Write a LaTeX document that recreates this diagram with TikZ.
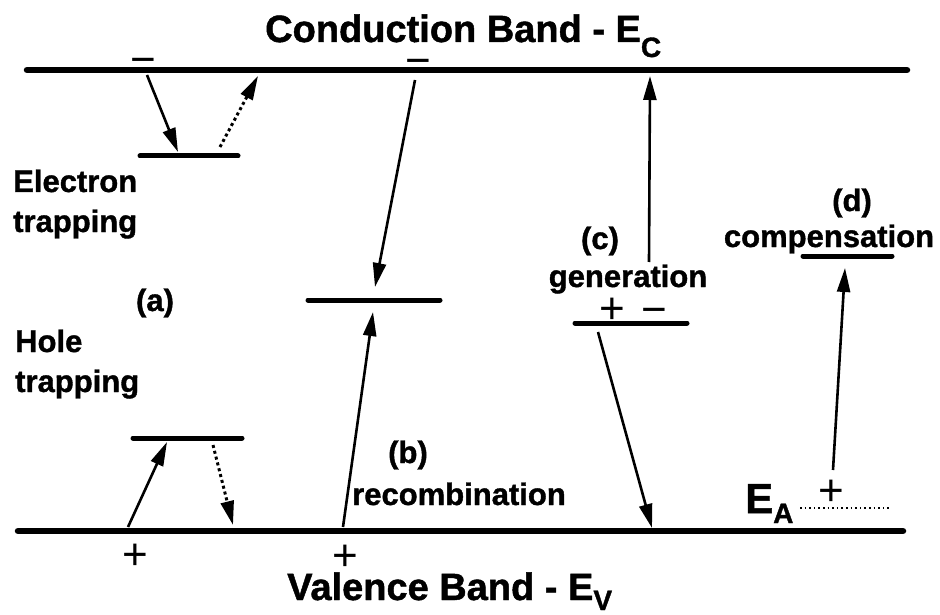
\documentclass[tikz,border=0pt]{standalone}
\usepackage{fontspec}
\setmainfont{Liberation Sans}[BoldFeatures={FakeBold=1.2}]
\usetikzlibrary{arrows.meta}
\newcommand{\lowsub}[2][15pt]{\raisebox{-#1}{\fontsize{28}{28}\selectfont #2}}

\begin{document}
\begin{tikzpicture}[x=1pt, y=-1pt,
  band/.style={line width=6.5pt, line cap=round},
  level/.style={line width=5pt, line cap=round},
  arrow/.style={-{Triangle[length=24pt,width=13pt]}, line width=2.6pt},
  dotarrow/.style={arrow, line width=3pt, dash pattern=on 3pt off 3pt},
  label/.style={font=\bfseries\fontsize{31}{40}\selectfont, inner sep=0pt, align=left},
  title/.style={font=\bfseries\fontsize{38}{40}\selectfont, inner sep=0pt, anchor=base west},
  sign/.style={font=\fontsize{44}{44}\selectfont, inner sep=0pt}
]
\useasboundingbox (0,0) rectangle (940,615);

\node[title] (cbtitle) at (265,42) {Conduction Band - E\lowsub{C}};
\node[title] (vbtitle) at (287,600) {Valence Band - E\lowsub[10pt]{V}};

\coordinate (cbL) at (27,70);  \coordinate (cbR) at (907,70);
\coordinate (vbL) at (18,531); \coordinate (vbR) at (903,531);
\draw[band] (cbL) -- (cbR);
\draw[band] (vbL) -- (vbR);

\coordinate (etL) at (140,156); \coordinate (etR) at (238,156);
\coordinate (htL) at (133,438); \coordinate (htR) at (242,438);
\coordinate (rcL) at (308,300); \coordinate (rcR) at (440,300);
\coordinate (gnL) at (575,323); \coordinate (gnR) at (687,323);
\coordinate (cpL) at (803,256); \coordinate (cpR) at (892,256);
\draw[level] (etL) -- (etR);
\draw[level] (htL) -- (htR);
\draw[level] (rcL) -- (rcR);
\draw[level] (gnL) -- (gnR);
\draw[level] (cpL) -- (cpR);

\node[label, anchor=base west] (electron) at (13,232) {Electron\\trapping};
\node[label, anchor=base west] (hole) at (15,392) {Hole\\trapping};
\node[label] (pa) at (155,303) {(a)};
\node[label] (pb) at (408,455) {(b)};
\node[label, anchor=base west] (recomb) at (352,505) {recombination};
\node[label] (pc) at (600,241) {(c)};
\node[label, anchor=base] (gener) at (628,287) {generation};
\node[label] (pd) at (852,203) {(d)};
\node[label, anchor=base] (compens) at (829,247) {compensation};
\node[anchor=base west, inner sep=0pt, font=\bfseries\fontsize{42}{42}\selectfont] (ea) at (745,513) {E\lowsub[10pt]{A}};

\node[sign] (m1) at (143,66) {−};
\node[sign] (m2) at (418,67) {−};
\node[sign] (m3) at (654,316) {−};
\node[sign] (p1) at (135,557) {+};
\node[sign] (p2) at (345,558) {+};
\node[sign] (p3) at (612,311) {+};
\node[sign] (p4) at (831,493) {+};

\coordinate (e1a) at (147,75);  \coordinate (e1b) at (178,152);
\coordinate (e2a) at (220,147); \coordinate (e2b) at (258,76);
\coordinate (h1a) at (128,527); \coordinate (h1b) at (167,442);
\coordinate (h2a) at (213,445); \coordinate (h2b) at (233,525);
\coordinate (r1a) at (415,80);  \coordinate (r1b) at (375,287);
\coordinate (r2a) at (343,527); \coordinate (r2b) at (373,312);
\coordinate (g1a) at (649,262); \coordinate (g1b) at (650,76);
\coordinate (g2a) at (598,332); \coordinate (g2b) at (652,528);
\coordinate (c1a) at (833,470); \coordinate (c1b) at (845,268);
\draw[arrow] (e1a) -- (e1b);
\draw[dotarrow] (e2a) -- (e2b);
\draw[arrow] (h1a) -- (h1b);
\draw[dotarrow] (h2a) -- (h2b);
\draw[arrow] (r1a) -- (r1b);
\draw[arrow] (r2a) -- (r2b);
\draw[arrow] (g1a) -- (g1b);
\draw[arrow] (g2a) -- (g2b);
\draw[arrow] (c1a) -- (c1b);

\coordinate (eaL) at (800,508); \coordinate (eaR) at (890,508);
\draw[line width=2pt, dash pattern=on 1.6pt off 3pt] (eaL) -- (eaR);
\end{tikzpicture}
\end{document}
